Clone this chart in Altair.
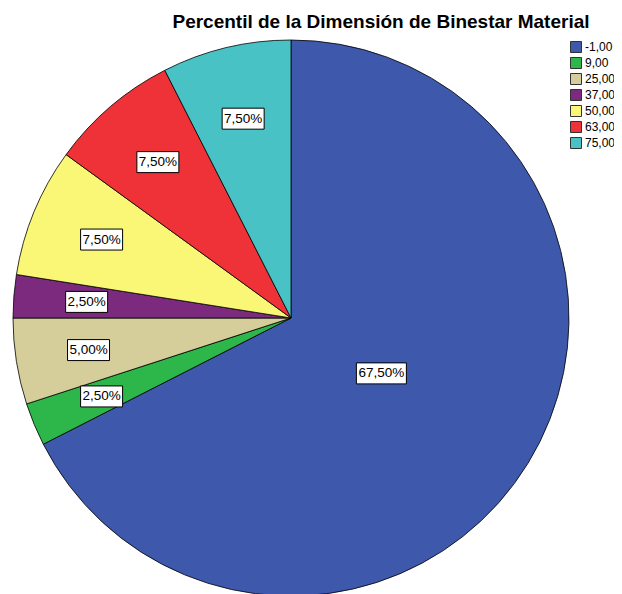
import altair as alt
import pandas as pd

title_text = "Percentil de la Dimensión de Binestar Material"
categories = ["-1,00", "9,00", "25,00", "37,00", "50,00", "63,00", "75,00"]
percents = [67.5, 2.5, 5.0, 2.5, 7.5, 7.5, 7.5]
label_texts = ["67,50%", "2,50%", "5,00%", "2,50%", "7,50%", "7,50%", "7,50%"]
colors = ["#3E58AC", "#2DB74A", "#D5CE9B", "#7B2A7E", "#FAF777", "#EE3237", "#49C2C6"]

df = pd.DataFrame({"cat": categories, "pct": percents, "lab": label_texts,
                   "idx": list(range(len(categories)))})

CX, CY, R = 283, 310, 278
FONT = "Liberation Sans"

base = alt.Chart(df)

pie = base.mark_arc(stroke="#000000", strokeWidth=0.8, outerRadius=R).encode(
    theta=alt.Theta("pct:Q", stack=True),
    order=alt.Order("idx:Q"),
    color=alt.Color("cat:N", sort=categories,
                    scale=alt.Scale(domain=categories, range=colors),
                    legend=alt.Legend(orient="none", legendX=562, legendY=33, title=None,
                                      symbolType="square", symbolSize=121,
                                      symbolStrokeColor="#333333", symbolStrokeWidth=1,
                                      symbolOpacity=1,
                                      labelFont=FONT, labelFontSize=12, labelColor="#000000",
                                      labelOffset=3, rowPadding=0)),
    x=alt.value(CX), y=alt.value(CY),
)

pos = base.transform_window(
    cum="sum(pct)", sort=[alt.SortField("idx")], frame=[None, 0]
).transform_calculate(
    mid="(datum.cum - datum.pct/2) / 100 * 2 * PI",
    r="datum.idx == 0 ? 106 : 205",
).transform_calculate(
    px=f"{CX} + datum.r * sin(datum.mid)",
    py=f"{CY} - datum.r * cos(datum.mid)",
)

wide = "M-1,-0.42L1,-0.42L1,0.42L-1,0.42Z"
narrow = "M-0.84,-0.42L0.84,-0.42L0.84,0.42L-0.84,0.42Z"

boxes = pos.mark_point(filled=True, fill="#FFFFFF", stroke="#000000", strokeWidth=1,
                       opacity=1, size=2500).encode(
    x=alt.X("px:Q", scale=None),
    y=alt.Y("py:Q", scale=None),
    shape=alt.condition("datum.idx == 0", alt.value(wide), alt.value(narrow)),
)

texts = pos.mark_text(font=FONT, fontSize=13.5, color="#000000").encode(
    x=alt.X("px:Q", scale=None),
    y=alt.Y("py:Q", scale=None),
    text="lab:N",
)

title = alt.Chart(pd.DataFrame({"t": [title_text]})).mark_text(
    font=FONT, fontSize=19, fontWeight="bold", color="#000000"
).encode(text="t:N", x=alt.value(373), y=alt.value(14))

chart = alt.layer(pie, boxes, texts, title).properties(
    width=606, height=586, autosize="none", padding=0
).configure_view(stroke=None)

chart.save("out.html", embed_options={"renderer": "svg", "actions": False})
